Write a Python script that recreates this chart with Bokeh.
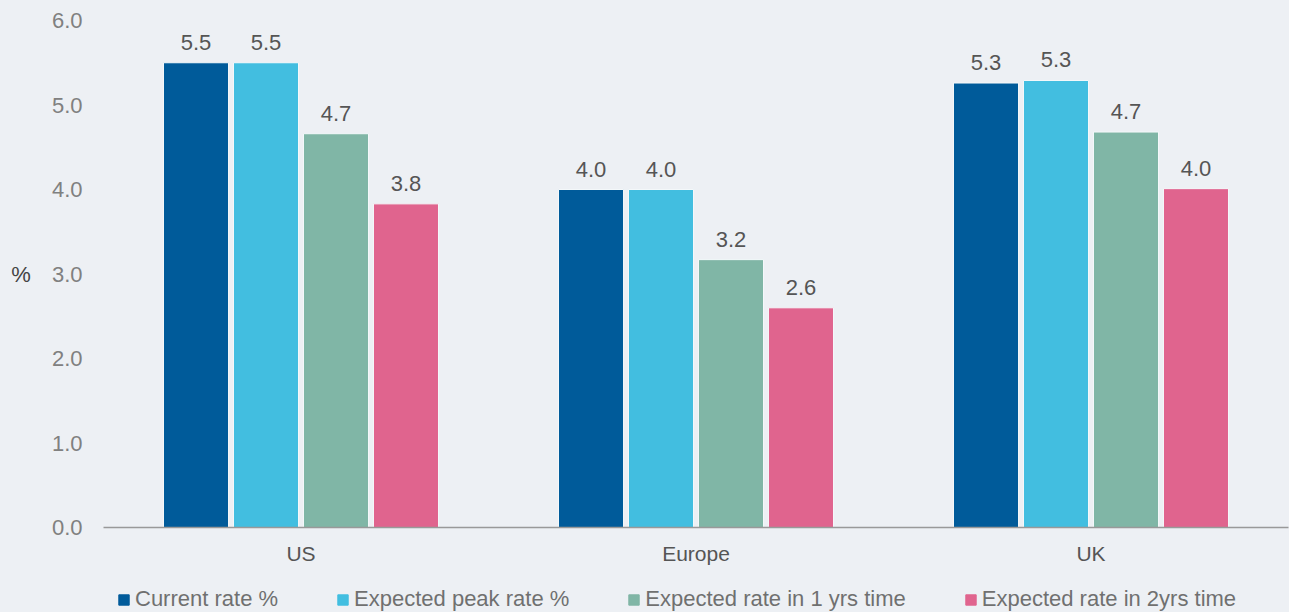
from bokeh.plotting import figure
from bokeh.layouts import column
from bokeh.models import ColumnDataSource, Legend, LegendItem, LabelSet, FixedTicker, CustomJSTickFormatter
from bokeh.core.properties import value
from bokeh.transform import dodge
from bokeh.embed import file_html
from bokeh.resources import INLINE

regions = ["US", "Europe", "UK"]
series = ["Current rate %", "Expected peak rate %", "Expected rate in 1 yrs time", "Expected rate in 2yrs time"]
current_rate = [5.50, 4.00, 5.26]
peak_rate = [5.50, 4.00, 5.29]
rate_1yr = [4.66, 3.17, 4.68]
rate_2yr = [3.83, 2.60, 4.01]
colors = ["#005B9A", "#42BEE0", "#80B6A6", "#E0648E"]
offsets = [-0.2658, -0.0886, 0.0886, 0.2658]

values = [current_rate, peak_rate, rate_1yr, rate_2yr]

FONT = "Liberation Sans"
BG = "#EDF0F4"

p = figure(x_range=regions, y_range=(0, 6), width=1289, height=570,
           min_border_left=103, min_border_right=1, min_border_top=20, min_border_bottom=43,
           output_backend="svg", toolbar_location=None,
           background_fill_color=BG, border_fill_color=BG, outline_line_color=None)
p.x_range.range_padding = 0
p.grid.visible = False

for i, (name, vals) in enumerate(zip(series, values)):
    src = ColumnDataSource(dict(x=regions, top=vals, label=[f"{v:.1f}" for v in vals]))
    p.vbar(x=dodge("x", offsets[i], range=p.x_range), top="top", width=0.1646, bottom=0,
           source=src, fill_color=colors[i], line_color="#F4F8FA", line_width=1)
    labels = LabelSet(x=dodge("x", offsets[i], range=p.x_range), y="top", text="label", source=src,
                      text_align="center", text_baseline="alphabetic", y_offset=13,
                      text_font=value(FONT), text_font_size="22px", text_color="#555555")
    p.add_layout(labels)

p.yaxis.ticker = FixedTicker(ticks=[0, 1, 2, 3, 4, 5, 6])
p.yaxis.formatter = CustomJSTickFormatter(code="return tick.toFixed(1);")
p.yaxis.axis_line_color = None
p.yaxis.major_tick_line_color = None
p.yaxis.minor_tick_line_color = None
p.yaxis.major_tick_out = 0
p.yaxis.major_label_standoff = 21
p.yaxis.major_label_text_font = FONT
p.yaxis.major_label_text_font_size = "22px"
p.yaxis.major_label_text_color = "#808080"
p.yaxis.axis_label = "%"
p.yaxis.axis_label_orientation = "horizontal"
p.yaxis.axis_label_text_font = FONT
p.yaxis.axis_label_text_font_style = "normal"
p.yaxis.axis_label_text_font_size = "22px"
p.yaxis.axis_label_text_color = "#444444"
p.yaxis.axis_label_standoff = 18

p.xaxis.axis_line_color = "#999999"
p.xaxis.axis_line_width = 1.5
p.xaxis.major_tick_line_color = None
p.xaxis.minor_tick_line_color = None
p.xaxis.major_tick_out = 0
p.xaxis.major_tick_in = 0
p.xaxis.major_label_standoff = 14
p.xaxis.major_label_text_font = FONT
p.xaxis.major_label_text_font_size = "21px"
p.xaxis.major_label_text_color = "#555555"

# legend strip below the chart (proxy bars lie outside its visible y-range)
lg = figure(width=1289, height=42, x_range=(0, 1), y_range=(100, 101),
            min_border_left=103, min_border_right=1, min_border_top=0, min_border_bottom=0,
            x_axis_location=None, y_axis_location=None,
            output_backend="svg", toolbar_location=None,
            background_fill_color=BG, border_fill_color=BG, outline_line_color=None)
lg.grid.visible = False
items = []
for i, (name, vals) in enumerate(zip(series, values)):
    r = lg.vbar(x=list(range(len(vals))), top=vals, bottom=0, width=0.1,
                fill_color=colors[i], line_color=colors[i])
    items.append(LegendItem(label=name, renderers=[r]))

legend = Legend(items=items, location=(14, 0), orientation="horizontal",
                spacing=58, padding=0, margin=0, glyph_width=13, glyph_height=13,
                label_standoff=5, label_text_font=FONT, label_text_font_size="22px",
                label_text_color="#707070", border_line_color=None,
                background_fill_alpha=0, label_height=22)
lg.add_layout(legend)

layout = column(p, lg, spacing=0, styles={"background-color": BG})
open("out.html", "w").write(file_html(layout, INLINE))
